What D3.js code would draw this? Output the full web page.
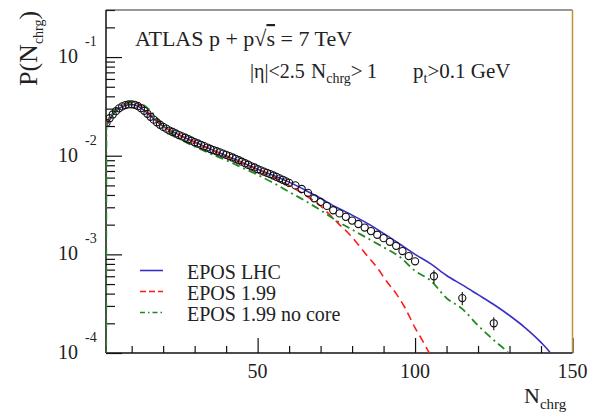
<!DOCTYPE html>
<html><head><meta charset="utf-8">
<script src="https://cdn.jsdelivr.net/npm/d3@7"></script>
<style>
body{margin:0;background:#fff}
svg{display:block}
</style>
</head><body>
<svg id="c" width="613" height="418"></svg>
<script>
// ATLAS data (open circles)
const dataN = [2,3,4,5,6,7,8,9,10,11,12,13,14,15,16,17,18,19,20,21,22,23,24,25,26,27,28,29,30,31,32,33,34,35,36,37,38,39,40,41,42,43,44,45,46,47,48,49,50,51,52,53,54,55,56,57,58,59,60,62,64,66,68,70,72,74,76,78,80,82,84,86,88,90,92,94,96,98,100,106,115,125];
const dataP = [0.0215,0.0240,0.0262,0.0283,0.0302,0.0316,0.0326,0.0331,0.0332,0.0328,0.0318,0.0303,0.0285,0.0266,0.0248,0.0232,0.0218,0.0206,0.0196,0.0188,0.0180,0.0174,0.0168,0.0162,0.0157,0.0152,0.0147,0.0142,0.0137,0.0133,0.0129,0.0125,0.0121,0.0117,0.0114,0.0111,0.0108,0.0105,0.0102,0.0099,0.0096,0.0093,0.0090,0.0087,0.0084,0.0081,0.0078,0.0076,0.0073,0.0071,0.0069,0.0067,0.0065,0.0063,0.0061,0.0059,0.0057,0.0055,0.0053,0.0050,0.0046,0.0042,0.0037,0.0034,0.0031,0.0028,0.0026,0.0024,0.0022,0.00203,0.00187,0.00172,0.00158,0.00146,0.00134,0.00122,0.00108,0.00096,0.00085,0.00060,0.00036,0.00020];
const errN = [106,115,125];
const errP = [0.00009,0.000055,0.00003];

// EPOS LHC
const lhcN = [2,4,6,8,10,12,14,16,18,20,25,30,35,40,45,50,55,60,65,70,75,80,85,90,95,100,105,110,115,120,125,130,135,140,143,145];
const lhcP = [0.020,0.026,0.030,0.0323,0.0330,0.0318,0.0288,0.0252,0.0222,0.0199,0.0163,0.0138,0.0117,0.0100,0.0086,0.0073,0.0063,0.0054,0.0045,0.0037,0.0030,0.0025,0.00205,0.00163,0.00128,0.00100,0.00080,0.00061,0.00049,0.00039,0.00031,0.00024,0.00018,0.000128,0.000100,0.000080];

// EPOS 1.99
const e199N = [2,4,6,8,10,12,14,16,18,20,25,30,35,40,45,50,55,60,65,70,73,76,79,82,85,88,91,94,97,100,102,104,106];
const e199P = [0.021,0.027,0.031,0.0335,0.0345,0.0335,0.030,0.026,0.0225,0.020,0.0162,0.0136,0.0116,0.0099,0.0085,0.0072,0.0061,0.0050,0.0040,0.0031,0.0025,0.0020,0.00162,0.00125,0.00095,0.00073,0.00053,0.00040,0.00028,0.00018,0.00014,0.000107,0.000085];

// EPOS 1.99 no core
const ncN = [1.9,2,4,6,8,10,12,14,16,18,20,22,25,30,35,40,45,50,55,60,65,70,75,80,85,90,95,100,105,110,115,120,125,130,132];
const ncP = [0.00005,0.021,0.027,0.0312,0.0338,0.0350,0.0345,0.0322,0.0285,0.0240,0.0202,0.0176,0.0150,0.0124,0.0105,0.0090,0.0076,0.0064,0.0053,0.0043,0.0035,0.0028,0.0022,0.00178,0.00145,0.00118,0.00095,0.00068,0.00054,0.00036,0.00028,0.00019,0.000135,0.000097,0.00008];

const xMajor = [50,100,150];
const xMinor = [10,20,30,40,60,70,80,90,110,120,130,140];
const xTickLabels = ["50","100","150"];
const yMajor = [1e-4,1e-3,1e-2,1e-1];
const yExpLabels = ["-4","-3","-2","-1"];
const legendLabels = ["EPOS LHC","EPOS 1.99","EPOS 1.99 no core"];

const FONT = "'Liberation Serif', 'Times New Roman', 'DejaVu Serif', serif";
const svg = d3.select("#c").attr("font-family",FONT).style("font-family",FONT);
const L=106, R=572.5, T=10, B=353;
const x = d3.scaleLinear().domain([1.85,150]).range([L,R]);
const y = d3.scaleLog().domain([1e-4,0.3]).range([B,T]);

svg.append("defs").append("clipPath").attr("id","clip")
  .append("rect").attr("x",L).attr("y",T).attr("width",R-L).attr("height",B-T);

// axes ticks (inside)
const gx = svg.append("g").attr("transform",`translate(0,${B})`);
gx.append("g").call(d3.axisTop(x).tickValues(xMinor).tickSize(7).tickFormat(""));
gx.append("g").call(d3.axisTop(x).tickValues(xMajor).tickSize(15).tickFormat(""));
const gy = svg.append("g").attr("transform",`translate(${L},0)`);
gy.append("g").call(d3.axisRight(y).tickValues(y.ticks().filter(v=>yMajor.indexOf(v)<0)).tickSize(9).tickFormat(""));
gy.append("g").call(d3.axisRight(y).tickValues(yMajor).tickSize(16).tickFormat(""));
svg.selectAll(".domain").remove();
svg.selectAll(".tick line").attr("stroke","#111").attr("stroke-width",1.2);

// frame
svg.append("line").attr("x1",L).attr("x2",R).attr("y1",T).attr("y2",T).attr("stroke","#333").attr("stroke-width",1.2);
svg.append("line").attr("x1",R).attr("x2",R).attr("y1",T).attr("y2",B).attr("stroke","#c0913c").attr("stroke-width",1.5);
svg.append("line").attr("x1",L).attr("x2",L).attr("y1",T).attr("y2",B).attr("stroke","#111").attr("stroke-width",1.5);
svg.append("line").attr("x1",L).attr("x2",R).attr("y1",B).attr("y2",B).attr("stroke","#111").attr("stroke-width",1.5);

function T_(sel){ return sel.attr("font-family",FONT).style("font-family",FONT).attr("fill","#222"); }

// tick labels
xMajor.forEach((v,i)=>{
  T_(svg.append("text")).attr("x",x(v)).attr("y",B+25).attr("text-anchor","middle").attr("font-size",20).text(xTickLabels[i]);
});
yMajor.forEach((v,i)=>{
  T_(svg.append("text")).attr("x",78).attr("y",y(v)+6).attr("text-anchor","end").attr("font-size",20).text("10");
  T_(svg.append("text")).attr("x",85).attr("y",y(v)-11).attr("font-size",14).text(yExpLabels[i]);
});

// axis titles
const xt = T_(svg.append("text")).attr("x",524).attr("y",403).attr("font-size",22);
xt.append("tspan").text("N");
xt.append("tspan").attr("font-size",15).attr("dy",6).text("chrg");
const yt = T_(svg.append("text")).attr("transform","translate(37,86) rotate(-90)").attr("font-size",26);
yt.append("tspan").text("P(N");
yt.append("tspan").attr("font-size",14).attr("dy",6).text("chrg");
yt.append("tspan").attr("dy",-6).text(")");

// curves
const plot = svg.append("g").attr("clip-path","url(#clip)");
const line = d3.line().x(d=>x(d[0])).y(d=>y(Math.max(d[1],1e-6))).curve(d3.curveMonotoneX);
const styles = [
  {n:lhcN,p:lhcP,c:"#3a30c4",dash:null,w:1.6,ld:null},
  {n:e199N,p:e199P,c:"#ff1a1a",dash:"8,5",w:1.6,ld:"6,3"},
  {n:ncN,p:ncP,c:"#1d8c1d",dash:"8,4,2,4",w:1.8,ld:"5,3,1.5,3"}
];
styles.forEach(s=>{
  plot.append("path").datum(s.n.map((v,i)=>[v,s.p[i]]))
    .attr("d",line).attr("fill","none").attr("stroke",s.c).attr("stroke-width",s.w)
    .attr("stroke-dasharray",s.dash);
});
// error bars
plot.selectAll(".eb").data(errN).enter().append("line")
  .attr("x1",d=>x(d)).attr("x2",d=>x(d))
  .attr("y1",(d,i)=>y(dataP[dataN.indexOf(d)]+errP[i]))
  .attr("y2",(d,i)=>y(dataP[dataN.indexOf(d)]-errP[i]))
  .attr("stroke","#111").attr("stroke-width",1.1);
plot.selectAll(".pt").data(dataN).enter().append("circle")
  .attr("cx",d=>x(d)).attr("cy",(d,i)=>y(dataP[i])).attr("r",3.6)
  .attr("fill","none").attr("stroke","#111").attr("stroke-width",1.1);

// labels
const t1 = T_(svg.append("text")).attr("x",135).attr("y",46).attr("font-size",22);
t1.append("tspan").text("ATLAS p + p\u221A");
t1.append("tspan").style("text-decoration","overline").text("s");
t1.append("tspan").text(" = 7 TeV");
const t2 = T_(svg.append("text")).attr("y",78).attr("font-size",20);
t2.append("tspan").attr("x",250).text("|\u03B7|<2.5");
t2.append("tspan").attr("x",311).attr("font-size",21).text("N");
t2.append("tspan").attr("font-size",14).attr("dy",5).text("chrg");
t2.append("tspan").attr("font-size",21).attr("dy",-5).text(">\u20091");
t2.append("tspan").attr("x",413).attr("font-size",21).text("p");
t2.append("tspan").attr("font-size",14).attr("dy",5).text("t");
t2.append("tspan").attr("font-size",21).attr("dy",-5).text(">0.1 GeV");

// legend
styles.forEach((s,i)=>{
  const ly = 270.5 + i*21;
  svg.append("line").attr("x1",140).attr("x2",163).attr("y1",ly).attr("y2",ly)
    .attr("stroke",s.c).attr("stroke-width",1.6).attr("stroke-dasharray",s.ld);
  T_(svg.append("text")).attr("x",187).attr("y",ly+8).attr("font-size",20).text(legendLabels[i]);
});
</script>
</body></html>
